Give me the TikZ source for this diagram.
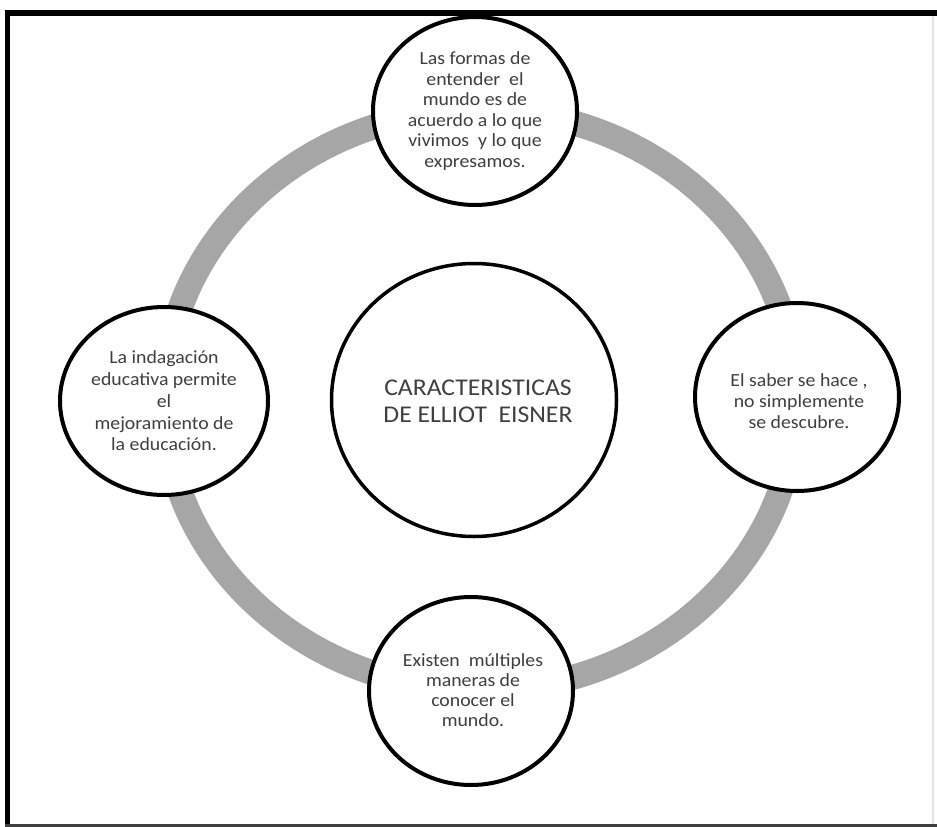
\documentclass[tikz,border=0pt]{standalone}
\usepackage{fontspec}
\setmainfont{Carlito}[FakeStretch=1.07]
\usetikzlibrary{shapes.geometric}
\definecolor{ringgray}{HTML}{A6A6A6}
\definecolor{txtgray}{HTML}{3F3F3F}
\begin{document}
\begin{tikzpicture}[x=1pt,y=-1pt,
  sat/.style={ellipse, draw=black, line width=4pt, fill=white, minimum width=204pt, minimum height=188pt, inner sep=0pt},
  hub/.style={ellipse, draw=black, line width=3.5pt, fill=white, minimum width=285pt, minimum height=273pt, inner sep=0pt},
  sattext/.style={align=center, text=txtgray, inner sep=0pt, font=\fontsize{18.5}{20.5}\selectfont},
  hubtext/.style={align=center, text=txtgray, inner sep=0pt, font=\fontsize{24}{27}\selectfont},
  ring/.style={draw=ringgray, line width=25pt},
  frame/.style={draw=black}
]
\useasboundingbox (0,0) rectangle (937,827);
\fill[white] (0,0) rectangle (937,827);
% ring
\coordinate (ringc) at (480,400);
\draw[ring] (ringc) ellipse [x radius=316pt, y radius=290pt];
% hub
\node[hub] (hub) at (474,400) {};
\node[hubtext] (hubt) at (478,401) {CARACTERISTICAS\\DE ELLIOT\ \ EISNER};
% satellites
\node[sat] (top) at (475,111) {};
\node[sattext] (topt) at (top.center) {Las formas de\\entender\ \ el\\mundo es de\\acuerdo a lo que\\vivimos\ \ y lo que\\expresamos.};
\node[sat, minimum width=208pt] (left) at (164,401) {};
\node[sattext, font=\fontsize{18.5}{21.8}\selectfont] (leftt) at (left.center) {La indagación\\educativa permite\\el\\mejoramiento de\\la educación.};
\node[sat] (right) at (797,397) {};
\node[sattext, font=\fontsize{18.5}{21}\selectfont] (rightt) at (799,401) {El saber se hace ,\\no simplemente\\se descubre.};
\node[sat] (bottom) at (471,691) {};
\node[sattext, font=\fontsize{18.5}{20}\selectfont] (bottomt) at (473,690) {Existen\ \ múltiples\\maneras de\\conocer el\\mundo.};
% frame
\coordinate (tl) at (5,13);
\coordinate (tr) at (937,13);
\draw[frame, line width=6pt] (tl) -- (tr);
\coordinate (lt) at (7,10);
\coordinate (lb) at (7,827);
\draw[frame, line width=5pt] (lt) -- (lb);
\coordinate (bl) at (5,825.5);
\coordinate (br) at (937,825.5);
\draw[draw=black!75, line width=3pt] (bl) -- (br);
\coordinate (rt) at (933,16);
\coordinate (rb) at (933,824);
\draw[draw=black!10, line width=1.5pt] (rt) -- (rb);
\end{tikzpicture}
\end{document}
